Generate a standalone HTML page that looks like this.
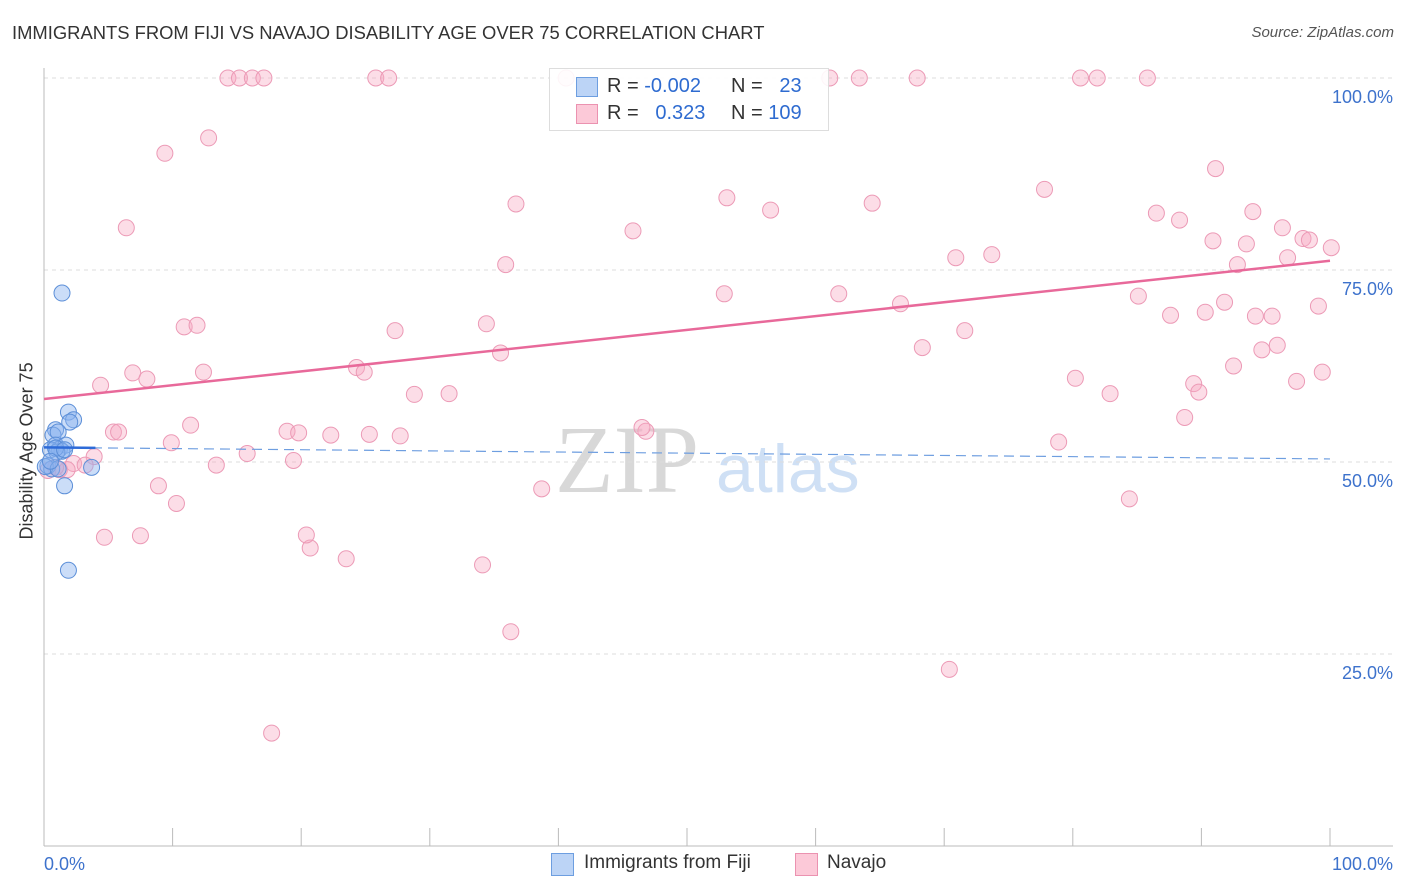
<!DOCTYPE html>
<html><head><meta charset="utf-8"><style>
body{margin:0;width:1406px;height:892px;background:#fff;font-family:"Liberation Sans",sans-serif;overflow:hidden;position:relative}
.t{position:absolute;white-space:nowrap}
</style></head><body>
<div class="t" style="left:12px;top:22px;font-size:18.4px;color:#333">IMMIGRANTS FROM FIJI VS NAVAJO DISABILITY AGE OVER 75 CORRELATION CHART</div>
<div class="t" style="right:12px;top:24px;font-size:15px;color:#555;font-style:italic">Source: ZipAtlas.com</div>
<svg id="c" width="1406" height="892" style="position:absolute;left:0;top:0">
<text x="555" y="492" font-size="96" fill="#d8d8d8" font-family="Liberation Serif,serif">ZIP</text>
<text x="716" y="492" font-size="68" fill="#cfe0f5" font-family="Liberation Sans,sans-serif">atlas</text>
</svg>
<div style="position:absolute;left:549px;top:68px;width:278px;height:61px;border:1px solid #ddd;background:rgba(255,255,255,.9);font-size:20px">
<div style="position:absolute;left:26px;top:8px;width:20px;height:18px;background:#bcd4f6;border:1px solid #6d9ee0"></div>
<div class="t" style="left:57px;top:6px;color:#333">R = <span style="color:#2e6bd0">-0.002</span></div>
<div class="t" style="left:181px;top:6px;color:#333">N = <span style="color:#2e6bd0">&nbsp;&nbsp;23</span></div>
<div style="position:absolute;left:26px;top:35px;width:20px;height:18px;background:#fcc9d8;border:1px solid #eb92b0"></div>
<div class="t" style="left:57px;top:33px;color:#333">R = <span style="color:#2e6bd0">&nbsp;&nbsp;0.323</span></div>
<div class="t" style="left:181px;top:33px;color:#333">N = <span style="color:#2e6bd0">109</span></div>
</div>
<div style="position:absolute;left:551px;top:853px;width:21px;height:21px;background:#bcd4f6;border:1px solid #6d9ee0"></div>
<div class="t" style="left:584px;top:852px;font-size:19px;color:#333">Immigrants from Fiji</div>
<div style="position:absolute;left:795px;top:853px;width:21px;height:21px;background:#fcc9d8;border:1px solid #eb92b0"></div>
<div class="t" style="left:827px;top:852px;font-size:19px;color:#333">Navajo</div>
<div class="t" style="left:-58px;top:444px;font-size:18px;color:#333;transform:rotate(-90deg);width:170px;text-align:center">Disability Age Over 75</div>
<script>
const yTicks=[25,50,75,100];
const yTickLabels=["25.0%","50.0%","75.0%","100.0%"];
const xTickLabels=["0.0%","100.0%"];
const navajoX=[14.3,15.2,16.2,17.1,25.8,26.8,40.6,61.1,63.4,67.9,80.6,81.9,85.8,9.4,12.8,6.4,36.7,45.8,53.1,56.5,64.4,77.8,91.1,86.5,88.3,94.0,90.9,93.5,96.3,97.9,98.4,100.1,35.9,70.9,73.7,92.8,96.7,10.9,11.9,27.3,34.4,52.9,61.8,66.6,71.6,85.1,87.6,90.3,91.8,94.2,95.5,99.1,35.5,68.3,94.7,95.9,6.9,8.0,12.4,24.3,24.9,4.4,80.2,92.5,99.4,89.4,89.8,97.4,82.9,28.8,31.5,11.4,5.4,18.9,19.8,22.3,25.3,27.7,46.8,46.5,88.7,9.9,15.8,19.4,5.8,13.4,78.9,2.3,3.9,1.2,1.8,3.2,8.9,10.3,38.7,84.4,4.7,7.5,20.7,20.4,23.5,34.1,36.3,70.4,17.7,0.3,0.9];
const navajoY=[100,100,100,100,100,100,100,100,100,100,100,100,100,90.2,92.2,80.5,83.6,80.1,84.4,82.8,83.7,85.5,88.2,82.4,81.5,82.6,78.8,78.4,80.5,79.1,78.9,77.9,75.7,76.6,77.0,75.7,76.6,67.6,67.8,67.1,68.0,71.9,71.9,70.6,67.1,71.6,69.1,69.5,70.8,69.0,69.0,70.3,64.2,64.9,64.6,65.2,61.6,60.8,61.7,62.3,61.7,60.0,60.9,62.5,61.7,60.2,59.1,60.5,58.9,58.8,58.9,54.8,53.9,54.0,53.8,53.5,53.6,53.4,54.0,54.5,55.8,52.5,51.1,50.2,53.9,49.6,52.6,49.8,50.7,49.0,49.0,49.6,46.9,44.6,46.5,45.2,40.2,40.4,38.8,40.5,37.4,36.6,27.9,23.0,14.7,48.9,49.3];
const fijiX=[1.4,1.9,2.3,2.0,0.9,0.7,1.1,0.9,1.2,1.7,1.4,0.5,1.0,0.3,0.6,0.1,1.1,3.7,1.6,1.9,0.9,1.6,0.5];
const fijiY=[72.0,56.5,55.5,55.2,54.2,53.5,53.9,52.2,51.7,52.2,51.4,51.6,51.3,49.5,49.1,49.4,49.1,49.3,46.9,35.9,51.8,51.6,50.1];
const navajoTrend=[58.2,76.2];
const fijiTrend=[51.9,50.4];
const X0=44,X1=1330,Y0=846,Y100=78;
const sx=v=>X0+(X1-X0)*v/100, sy=v=>Y0-(Y0-Y100)*v/100;
const svg=document.getElementById('c'),NS='http://www.w3.org/2000/svg';
function mk(tag,at,parent){const e=document.createElementNS(NS,tag);for(const k in at)e.setAttribute(k,at[k]);(parent||svg).appendChild(e);return e;}
yTicks.forEach((t,i)=>{
 const g=mk('line',{x1:X0,x2:1393,y1:sy(t),y2:sy(t),stroke:'#ddd','stroke-dasharray':'4,4'});
 
 
 const tx=mk('text',{x:1393,y:sy(t)+25,'text-anchor':'end','font-size':18,fill:'#3d72cc','font-family':'Liberation Sans,sans-serif'});
 tx.textContent=yTickLabels[i];
 
 
});
const ax=mk('line',{x1:X0,x2:X0,y1:68,y2:Y0,stroke:'#bbb'});


const bx=mk('line',{x1:X0,x2:1393,y1:Y0,y2:Y0,stroke:'#bbb'});


for(let i=1;i<=10;i++){const tk=mk('line',{x1:sx(i*10),x2:sx(i*10),y1:828,y2:Y0,stroke:'#bbb'});
 
 }
[[0,'start',X0],[100,'end',1393]].forEach((a,i)=>{const tx=mk('text',{x:a[2],y:870,'text-anchor':a[1],'font-size':18,fill:'#3d72cc','font-family':'Liberation Sans,sans-serif'});
 tx.textContent=xTickLabels[i];
 
 });
navajoX.forEach((x,i)=>{const c=mk('circle',{cx:sx(x),cy:sy(navajoY[i]),r:8,fill:'rgba(247,170,196,0.4)',stroke:'#ec9ab6','stroke-width':1});
 
 });
fijiX.forEach((x,i)=>{const c=mk('circle',{cx:sx(x),cy:sy(fijiY[i]),r:8,fill:'rgba(140,180,240,0.45)',stroke:'#5c8fd8','stroke-width':1});
 
 });
const nt=mk('line',{x1:sx(0),x2:sx(100),y1:sy(navajoTrend[0]),y2:sy(navajoTrend[1]),stroke:'#e8699a','stroke-width':2.5});


const fd=mk('line',{x1:sx(0),x2:sx(100),y1:sy(fijiTrend[0]),y2:sy(fijiTrend[1]),stroke:'#6e9ee0','stroke-width':1.2,'stroke-dasharray':'10,6'});


const fs=mk('line',{x1:sx(0),x2:sx(4),y1:sy(fijiTrend[0]),y2:sy(fijiTrend[0]+(fijiTrend[1]-fijiTrend[0])*0.04),stroke:'#2e6bd8','stroke-width':2.5});


</script>
</body></html>
